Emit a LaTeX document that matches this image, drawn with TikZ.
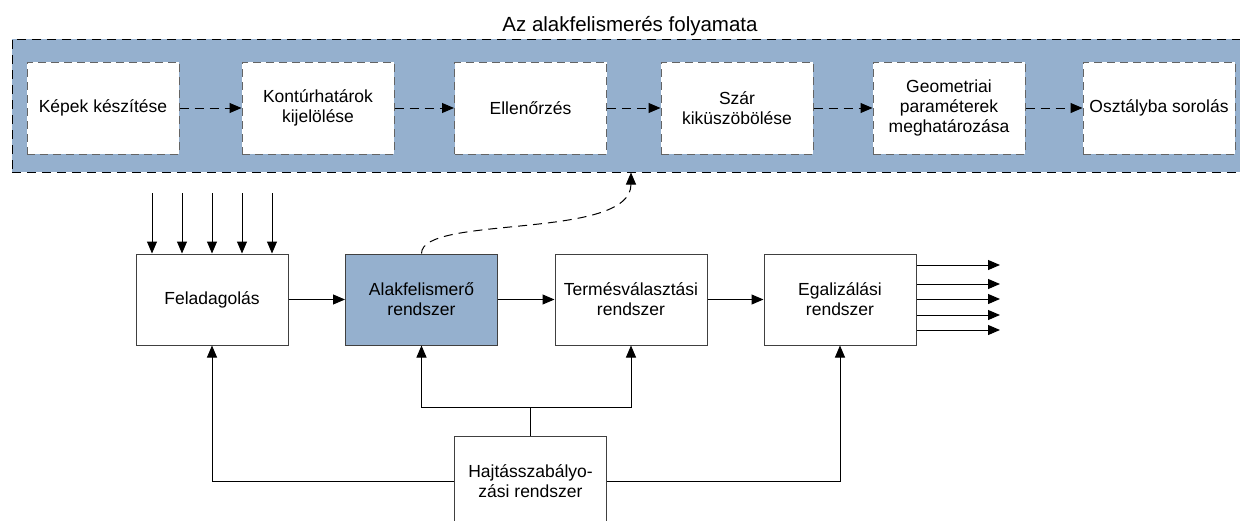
\documentclass[tikz,border=0pt]{standalone}
\usepackage{fontspec}
\setmainfont{Liberation Sans}
\usetikzlibrary{arrows.meta}
\definecolor{procblue}{RGB}{149,176,206}
\definecolor{boxgray}{RGB}{64,64,64}
\definecolor{dashgray}{RGB}{100,100,100}
\begin{document}
\begin{tikzpicture}[x=1pt,y=-1pt,
  txt/.style={font=\fontsize{17.5}{20}\selectfont, align=center, text=black},
  inbox/.style={txt, draw=dashgray, dash pattern=on 8pt off 5pt, fill=white, minimum width=152pt, minimum height=92pt, inner sep=0pt, line width=1pt},
  sysbox/.style={txt, draw=boxgray, fill=white, minimum width=152pt, minimum height=91pt, inner sep=0pt, line width=1pt},
  outerbox/.style={draw=black, fill=procblue, dash pattern=on 9pt off 6pt, line width=1pt, minimum width=1238pt, minimum height=133pt, inner sep=0pt},
  arr/.style={-{Triangle[length=12pt,width=10pt]}, line width=1pt, draw=black},
  darr/.style={arr, dash pattern=on 9pt off 6pt},
  plain/.style={line width=1pt, draw=black},
]
\useasboundingbox (0,0) rectangle (1240,520);
\fill[white] (0,0) rectangle (1240,520);

% process frame
\node[outerbox] (proc) at (631,105.5) {};
\node[font=\fontsize{20.5}{24}\selectfont, anchor=base] (title) at (630,31) {Az alakfelismerés folyamata};

\node[inbox] (k1) at (103,108) {Képek készítése};
\node[inbox] (k2) at (318,108) {Kontúrhatárok\\kijelölése};
\node[inbox] (k3) at (530.5,108) {Ellenőrzés};
\node[inbox] (k4) at (737,108) {Szár\\kiküszöbölése};
\node[inbox] (k5) at (949,108) {Geometriai\\paraméterek\\meghatározása};
\node[inbox] (k6) at (1159,108) {Osztályba sorolás};

\draw[darr] (k1.east) -- (k2.west);
\draw[darr] (k2.east) -- (k3.west);
\draw[darr] (k3.east) -- (k4.west);
\draw[darr] (k4.east) -- (k5.west);
\draw[darr] (k5.east) -- (k6.west);

% system boxes
\node[sysbox] (fel) at (212,299.5) {Feladagolás};
\node[sysbox, fill=procblue] (alak) at (421.5,299.5) {Alakfelismerő\\rendszer};
\node[sysbox] (term) at (631,299.5) {Termésválasztási\\rendszer};
\node[sysbox] (egal) at (840,299.5) {Egalizálási\\rendszer};
\node[sysbox] (hajt) at (530.5,481.5) {Hajtásszabályo-\\zási rendszer};

\draw[arr] (fel.east) -- (alak.west);
\draw[arr] (alak.east) -- (term.west);
\draw[arr] (term.east) -- (egal.west);

% inputs
\foreach \i/\x in {1/152,2/182,3/212,4/242,5/272} {
  \coordinate (in\i) at (\x,193);
  \draw[arr] (in\i) -- (in\i |- fel.north);
}
% outputs
\foreach \i/\y in {1/265,2/284,3/299,4/315,5/330} {
  \coordinate (out\i) at (1000,\y);
  \draw[arr] (egal.east |- out\i) -- (out\i);
}

% dashed link to the process
\draw[darr] (alak.north) .. controls +(0,-39) and +(0,68) .. (proc.south -| term.north);

% drive control
\coordinate (j) at (530.5,407);
\draw[plain] (hajt.north) -- (j);
\draw[arr] (j) -| (alak.south);
\draw[arr] (j) -| (term.south);
\draw[arr] (hajt.west) -| (fel.south);
\draw[arr] (hajt.east) -| (egal.south);
\end{tikzpicture}
\end{document}
